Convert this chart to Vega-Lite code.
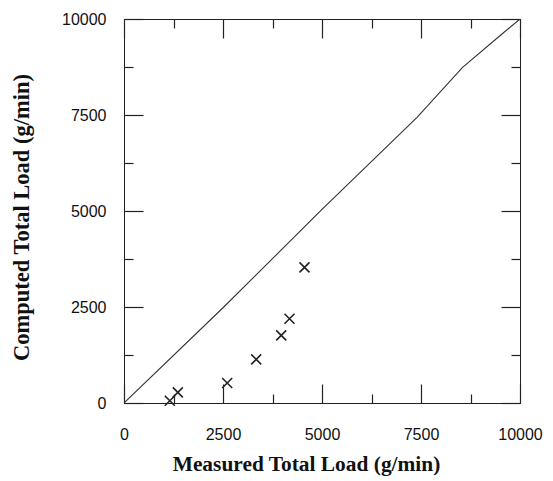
{
  "$schema": "https://vega.github.io/schema/vega-lite/v6.json",
  "autosize": "none",
  "padding": {"left": 124, "top": 19, "right": 33, "bottom": 78},
  "width": 396,
  "height": 384,
  "background": "white",
  "config": {"view": {"stroke": "#222", "strokeWidth": 1}},
  "datasets": {
    "line": [
      {"measured": 0, "computed": 0},
      {"measured": 2500, "computed": 2480},
      {"measured": 5000, "computed": 5040},
      {"measured": 7400, "computed": 7440},
      {"measured": 8550, "computed": 8740},
      {"measured": 9500, "computed": 9570},
      {"measured": 10000, "computed": 10000}
    ],
    "obs": [
      {"measured": 1157, "computed": 60},
      {"measured": 1359, "computed": 276},
      {"measured": 2606, "computed": 521},
      {"measured": 3338, "computed": 1135},
      {"measured": 3970, "computed": 1760},
      {"measured": 4179, "computed": 2195},
      {"measured": 4558, "computed": 3531}
    ]
  },
  "resolve": {"scale": {"x": "shared", "y": "shared"}, "axis": {"x": "independent", "y": "independent"}},
  "layer": [
    {
      "data": {"name": "line"},
      "mark": {"type": "line", "color": "#333", "strokeWidth": 1.1, "clip": true},
      "encoding": {
        "x": {
          "field": "measured", "type": "quantitative",
          "scale": {"domain": [0, 10000], "nice": false, "zero": true},
          "axis": {
            "orient": "bottom",
            "values": [0, 1250, 2500, 3750, 5000, 6250, 7500, 8750, 10000],
            "labelExpr": "datum.value % 2500 === 0 ? datum.label : ''",
            "format": "d",
            "tickSize": {"condition": {"test": "datum.value % 2500 === 0", "value": -19}, "value": -9},
            "labelPadding": 42,
            "labelFlush": false,
            "labelOverlap": false,
            "grid": false,
            "domainColor": "#222",
            "tickColor": "#222",
            "tickWidth": 1.2,
            "labelFont": "Liberation Sans",
            "labelFontSize": 16,
            "labelColor": "#111",
            "title": "Measured Total Load (g/min)",
            "titleFont": "Liberation Serif",
            "titleFontWeight": "bold",
            "titleFontSize": 21.4,
            "titleColor": "#111",
            "titlePadding": 1,
            "titleX": 182
          }
        },
        "y": {
          "field": "computed", "type": "quantitative",
          "scale": {"domain": [0, 10000], "nice": false, "zero": true},
          "axis": {
            "orient": "left",
            "values": [0, 1250, 2500, 3750, 5000, 6250, 7500, 8750, 10000],
            "labelExpr": "datum.value % 2500 === 0 ? datum.label : ''",
            "format": "d",
            "tickSize": {"condition": {"test": "datum.value % 2500 === 0", "value": -19}, "value": -9},
            "labelPadding": 37,
            "labelOverlap": false,
            "labelFlush": false,
            "grid": false,
            "domainColor": "#222",
            "tickColor": "#222",
            "tickWidth": 1.2,
            "labelFont": "Liberation Sans",
            "labelFontSize": 16,
            "labelColor": "#111",
            "title": "Computed Total Load (g/min)",
            "titleFont": "Liberation Serif",
            "titleFontWeight": "bold",
            "titleFontSize": 22.5,
            "titleColor": "#111",
            "titlePadding": 28,
            "titleY": 198
          }
        }
      }
    },
    {
      "data": {"name": "obs"},
      "mark": {"type": "point", "shape": "M-1,-1L1,1M-1,1L1,-1", "filled": false, "stroke": "#222", "strokeWidth": 1.6, "size": 100, "opacity": 1},
      "encoding": {
        "x": {
          "field": "measured", "type": "quantitative",
          "axis": {
            "orient": "top",
            "values": [0, 1250, 2500, 3750, 5000, 6250, 7500, 8750, 10000],
            "labels": false,
            "tickSize": {"condition": {"test": "datum.value % 2500 === 0", "value": -19}, "value": -9},
            "grid": false,
            "domainColor": "#222",
            "tickColor": "#222",
            "tickWidth": 1.2,
            "title": null
          }
        },
        "y": {
          "field": "computed", "type": "quantitative",
          "axis": {
            "orient": "right",
            "values": [0, 1250, 2500, 3750, 5000, 6250, 7500, 8750, 10000],
            "labels": false,
            "tickSize": {"condition": {"test": "datum.value % 2500 === 0", "value": -19}, "value": -9},
            "grid": false,
            "domainColor": "#222",
            "tickColor": "#222",
            "tickWidth": 1.2,
            "title": null
          }
        }
      }
    }
  ]
}
